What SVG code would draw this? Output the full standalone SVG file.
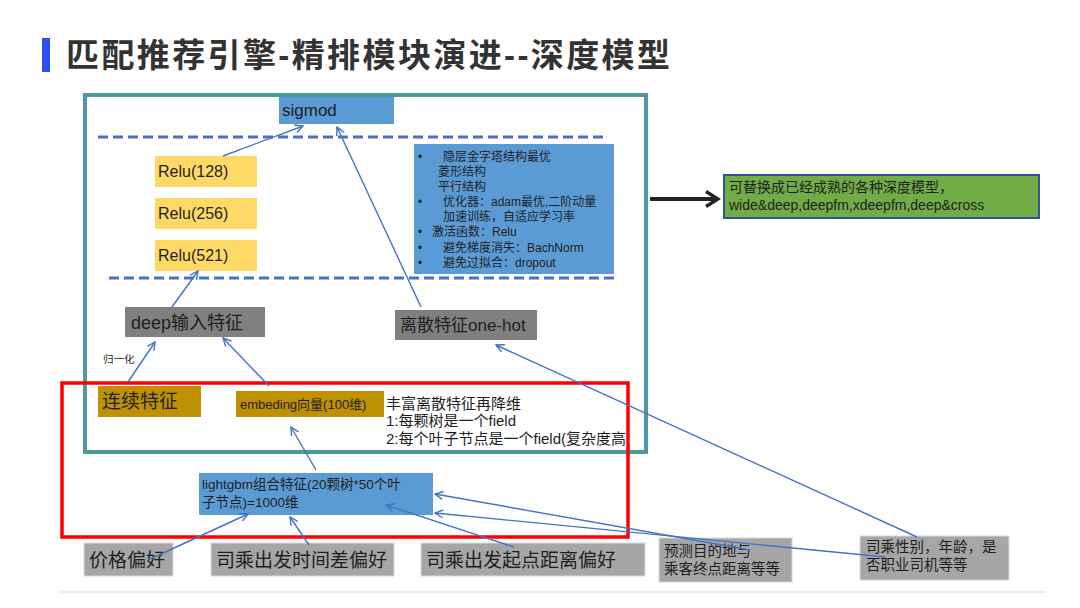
<svg xmlns="http://www.w3.org/2000/svg" width="1080" height="608" viewBox="0 0 1080 608">
<style>
text{font-family:"Liberation Sans","Noto Sans CJK SC",sans-serif;fill:#1e1e1e}
.blue{fill:#5b9bd5}
.relu{fill:#ffd966}
.dgray{fill:#808080}
.lgray{fill:#a6a6a6;stroke:#d9d9d9;stroke-width:1}
.gold{fill:#bf9000}
.conn{fill:none;stroke:#4472c4;stroke-width:1.4;marker-end:url(#ah)}
.dash{fill:none;stroke:#4472c4;stroke-width:3;stroke-dasharray:10 5}
</style>
<defs>
<marker id="ah" viewBox="0 0 10 10" refX="9" refY="5" markerWidth="10" markerHeight="10" markerUnits="userSpaceOnUse" orient="auto">
<path d="M1,1 L9,5 L1,9" fill="none" stroke="#4472c4" stroke-width="1.4"/>
</marker>
<marker id="bh" viewBox="0 0 12 12" refX="10" refY="6" markerWidth="18" markerHeight="18" markerUnits="userSpaceOnUse" orient="auto">
<path d="M2,1 L10,6 L2,11" fill="none" stroke="#222" stroke-width="2.2"/>
</marker>
</defs>
<rect width="1080" height="608" fill="#ffffff"/>
<g id="title">
<rect x="42" y="38" width="8" height="34" fill="#2f4ff0"/>
<text x="66" y="67" font-size="33" font-weight="bold" fill="#333333" textLength="604" lengthAdjust="spacing" style="fill:#333333">匹配推荐引擎-精排模块演进--深度模型</text>
</g>
<line x1="60" y1="592" x2="1045" y2="592" stroke="#ececec" stroke-width="2"/>
<g id="frame-teal"><rect x="85" y="95" width="561" height="357" fill="none" stroke="#4a9ba0" stroke-width="4"/></g>
<g id="dashes">
<line class="dash" x1="98" y1="137" x2="603" y2="137"/>
<line class="dash" x1="109" y1="278" x2="614" y2="278"/>
</g>
<g id="sigmod"><rect class="blue" x="279" y="97" width="115" height="27"/><text x="282" y="116" font-size="17">sigmod</text></g>
<g id="relu128"><rect class="relu" x="155" y="156" width="102" height="31"/><text x="158" y="177" font-size="16">Relu(128)</text></g>
<g id="relu256"><rect class="relu" x="155" y="198" width="102" height="31"/><text x="158" y="219" font-size="16">Relu(256)</text></g>
<g id="relu521"><rect class="relu" x="155" y="240" width="102" height="31"/><text x="158" y="261" font-size="16">Relu(521)</text></g>
<g id="notes">
<rect class="blue" x="414" y="144" width="200" height="130"/>
<g font-size="12">
<text x="418" y="161">•</text><text x="443" y="161">隐层金字塔结构最优</text>
<text x="438" y="176">菱形结构</text>
<text x="438" y="191">平行结构</text>
<text x="418" y="206">•</text><text x="443" y="206">优化器：adam最优,二阶动量</text>
<text x="443" y="221">加速训练，自适应学习率</text>
<text x="418" y="236">•</text><text x="432" y="236">激活函数：Relu</text>
<text x="418" y="252">•</text><text x="443" y="252">避免梯度消失：BachNorm</text>
<text x="418" y="267">•</text><text x="443" y="267">避免过拟合：dropout</text>
</g>
</g>
<g id="alt-models">
<rect x="724" y="175" width="315" height="43" fill="#70ad47" stroke="#2f5597" stroke-width="2"/>
<text x="729" y="192" font-size="14">可替换成已经成熟的各种深度模型，</text>
<text x="729" y="210" font-size="14">wide&amp;deep,deepfm,xdeepfm,deep&amp;cross</text>
</g>
<g id="deep-input"><rect class="dgray" x="125" y="307" width="140" height="30"/><text x="131" y="329" font-size="18">deep输入特征</text></g>
<g id="onehot"><rect class="dgray" x="395" y="310" width="142" height="30"/><text x="400" y="331" font-size="17">离散特征one-hot</text></g>
<g id="norm-label"><text x="103" y="363" font-size="10.5">归一化</text></g>
<g id="frame-red"><rect x="62" y="383" width="566" height="154" fill="none" stroke="#ff0000" stroke-width="3.5"/></g>
<g id="continuous"><rect class="gold" x="98" y="386" width="103" height="31"/><text x="102" y="408" font-size="19">连续特征</text></g>
<g id="embedding"><rect class="gold" x="236" y="391" width="148" height="26"/><text x="240" y="409" font-size="13">embeding向量(100维)</text></g>
<g id="embed-note">
<text x="386" y="409" font-size="15">丰富离散特征再降维</text>
<text x="386" y="426" font-size="15">1:每颗树是一个field</text>
<text x="386" y="444" font-size="15">2:每个叶子节点是一个field(复杂度高</text>
</g>
<g id="lightgbm"><rect class="blue" x="199" y="473" width="234" height="42"/>
<text x="202" y="489" font-size="13.5">lightgbm组合特征(20颗树*50个叶</text>
<text x="202" y="507" font-size="13.5">子节点)=1000维</text></g>
<g id="price"><rect class="lgray" x="84" y="543" width="89" height="33"/><text x="89" y="567" font-size="19">价格偏好</text></g>
<g id="timediff"><rect class="lgray" x="211" y="543" width="183" height="33"/><text x="216" y="567" font-size="19">司乘出发时间差偏好</text></g>
<g id="distance"><rect class="lgray" x="421" y="543" width="224" height="33"/><text x="426" y="567" font-size="19">司乘出发起点距离偏好</text></g>
<g id="dest"><rect class="lgray" x="659" y="538" width="133" height="44"/><text x="664" y="556" font-size="14.5">预测目的地与</text><text x="664" y="574" font-size="14.5">乘客终点距离等等</text></g>
<g id="profile"><rect class="lgray" x="860" y="536" width="149" height="44"/><text x="866" y="552" font-size="14.5">司乘性别，年龄，是</text><text x="866" y="570" font-size="14.5">否职业司机等等</text></g>
<g id="connectors">
<line class="conn" x1="223" y1="156" x2="303" y2="126"/>
<line class="conn" x1="421" y1="307" x2="337" y2="127"/>
<line class="conn" x1="172" y1="307" x2="198" y2="271"/>
<line class="conn" x1="128" y1="382" x2="155" y2="342"/>
<line class="conn" x1="269" y1="386" x2="223" y2="338"/>
<line class="conn" x1="316" y1="470" x2="291" y2="427"/>
<line class="conn" x1="917" y1="537" x2="496" y2="345"/>
<line class="conn" x1="148" y1="560" x2="248" y2="514"/>
<line class="conn" x1="309" y1="545" x2="290" y2="517"/>
<line class="conn" x1="514" y1="547" x2="386" y2="505"/>
<line class="conn" x1="750" y1="550" x2="435" y2="494"/>
<line class="conn" x1="885" y1="557" x2="435" y2="513"/>
<line x1="650" y1="199" x2="718" y2="199" stroke="#222" stroke-width="4" marker-end="url(#bh)"/>
</g>
</svg>
